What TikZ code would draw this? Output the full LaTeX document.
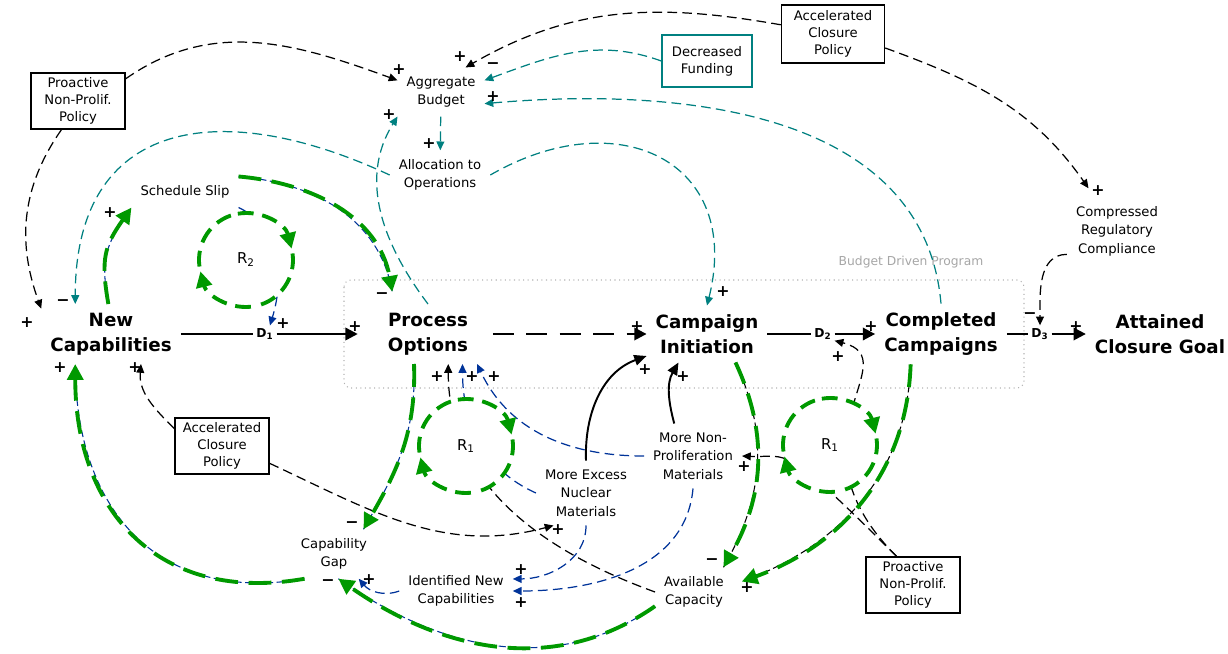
\documentclass[tikz,border=0pt]{standalone}
\usepackage{fontspec}
\setmainfont{DejaVu Sans}
\usetikzlibrary{arrows.meta}
\definecolor{cldgreen}{RGB}{0,153,0}
\definecolor{cldblue}{RGB}{0,51,153}
\definecolor{cldteal}{RGB}{0,128,128}
\tikzstyle{var}=[align=center, inner sep=5pt, font=\fontsize{7.5}{10.5}\selectfont]
\tikzstyle{stock}=[align=center, inner sep=5pt, font=\fontsize{10.4}{14}\selectfont\bfseries]
\tikzstyle{policy}=[draw, line width=0.85pt, align=center, inner sep=1pt,
  font=\fontsize{7.5}{9.6}\selectfont, minimum width=1.88cm, minimum height=1.12cm]
\tikzstyle{valve}=[inner sep=1.5pt, font=\fontsize{7}{8}\selectfont\bfseries]
\tikzstyle{sgn}=[inner sep=0pt, font=\fontsize{9}{9}\selectfont\bfseries]
\tikzstyle{looplbl}=[inner sep=0pt, font=\fontsize{8.5}{9}\selectfont]
\tikzstyle{flow}=[line width=1.4pt]
\tikzstyle{flowto}=[flow, -{Triangle[length=7pt,width=7pt]}]
\tikzstyle{link}=[line width=0.7pt, dash pattern=on 5.5pt off 3pt, -{Triangle[length=5pt,width=4.5pt]}]
\tikzstyle{tlink}=[link, cldteal]
\tikzstyle{blink}=[link, cldblue]
\tikzstyle{solidlink}=[line width=1.1pt, -{Triangle[length=7pt,width=6pt]}]
\tikzstyle{gbase}=[draw=cldgreen, line width=2.2pt, dash pattern=on 13pt off 6pt,
  -{Triangle[length=9pt,width=9pt]}]
\tikzstyle{gblue}=[gbase, preaction={draw=cldblue, line width=0.6pt, dash pattern=on 4pt off 2pt, -}]
\tikzstyle{gblack}=[gbase, preaction={draw=black, line width=0.6pt, dash pattern=on 4pt off 2pt, -}]
\tikzstyle{gloop}=[draw=cldgreen, line width=2.2pt, dash pattern=on 9pt off 5pt]
\tikzstyle{gloopto}=[gloop, -{Triangle[length=9pt,width=9pt]}]

\begin{document}
\begin{tikzpicture}[x=0.02cm, y=-0.02cm]
  \useasboundingbox (0,0) rectangle (1228,653);

  % program boundary
  \draw[gray!60, dotted, line width=0.6pt, rounded corners=4pt] (344,280) rectangle (1024,388);
  \node[inner sep=0pt, text=gray!70, font=\fontsize{7}{8}\selectfont] (bdlbl) at (911,262) {Budget Driven Program};

  % stocks and valves
  \node[stock] (nc) at (111,334) {New\\Capabilities};
  \node[stock] (po) at (428,334) {Process\\Options};
  \node[stock] (ci) at (707,334) {Campaign\\Initiation};
  \node[stock] (cc) at (941,334) {Completed\\Campaigns};
  \node[stock] (acg) at (1160,334) {Attained\\Closure Goal};
  \node[valve] (d1) at (265,334) {D\textsubscript{1}};
  \node[valve] (d2) at (823,334) {D\textsubscript{2}};
  \node[valve] (d3) at (1040,334) {D\textsubscript{3}};

  % auxiliaries
  \node[var] (ab) at (441,92) {Aggregate\\Budget};
  \node[var] (ao) at (440,175) {Allocation to\\Operations};
  \node[var] (ss) at (185,192) {Schedule Slip};
  \node[var] (crc) at (1117,231) {Compressed\\Regulatory\\Compliance};
  \node[var] (cg) at (334,554) {Capability\\Gap};
  \node[var] (inc) at (456,591) {Identified New\\Capabilities};
  \node[var] (ac) at (694,592) {Available\\Capacity};
  \node[var] (men) at (586,493) {More Excess\\Nuclear\\Materials};
  \node[var] (mnp) at (693,456) {More Non-\\Proliferation\\Materials};

  % policies
  \node[policy, draw=cldteal, minimum width=1.8cm, minimum height=1.04cm] (df) at (707,61) {Decreased\\Funding};
  \node[policy, minimum width=2.06cm, minimum height=1.16cm] (acpt) at (833,34) {Accelerated\\Closure\\Policy};
  \node[policy] (pnpt) at (78,101) {Proactive\\Non-Prolif.\\Policy};
  \node[policy] (acpb) at (222,446) {Accelerated\\Closure\\Policy};
  \node[policy] (pnpb) at (913,585) {Proactive\\Non-Prolif.\\Policy};

  % flows
  \draw[flow] (nc) -- (d1);
  \draw[flowto] (d1) -- ([xshift=-12pt]po.west);
  \draw[flowto, dash pattern=on 12pt off 7pt, shorten <=9pt] (po) -- (ci);
  \draw[flow] (ci) -- (d2);
  \draw[flowto] (d2) -- (cc);
  \draw[flow] (cc) -- (d3);
  \draw[flowto] (d3) -- (acg);

  % policy links
  \draw[link] (pnpt.25) to[out=35,in=160] (ab.165);
  \draw[link] (pnpt.-120) to[out=-125,in=110] (nc.160);
  \draw[link] (acpt.170) to[out=170,in=30] (ab.45);
  \draw[link] (acpt.-15) to[out=-20,in=125] ([yshift=5pt]crc.130);
  \draw[link] (crc.-155) to[out=180,in=90] (d3.north);
  \draw[link] (acpb.160) to[out=135,in=-95] (nc.-45);
  \draw[link] (acpb.-20) to[out=-25,in=195] (men.-135);
  \draw[link] (pnpb.120) .. controls (780,440) and (790,458) .. (mnp.east);
  \draw[link] (pnpb.120) .. controls (780,440) and (910,360) .. (d2.-30);
  \draw[link] (ac.west) to[out=160,in=-90] (po.-56);

  % budget links
  \draw[tlink] (ab) -- (ao);
  \draw[tlink] (df.west) to[out=160,in=20] (ab.15);
  \draw[tlink] (cc.north) to[out=95,in=5] (ab.-15);
  \draw[tlink] (po.north) to[out=127,in=238] (ab.south west);
  \draw[tlink] (ao.west) to[out=155,in=90,looseness=1.4] (nc.140);
  \draw[tlink] (ao.east) to[out=30,in=76,looseness=1.5] (ci.north);

  % materials links
  \draw[blink] (ss.south east) to[out=-25,in=73] (d1.60);
  \draw[blink] (inc.west) to[out=200,in=-50] (cg.-45);
  \draw[blink] (men.south) to[out=-90,in=0] (inc.12);
  \draw[blink] (mnp.south) to[out=-95,in=0] (inc.east);
  \draw[blink] (mnp.west) to[out=180,in=-65] (po.south east);
  \draw[blink] (men.west) to[out=156,in=-90] (po.-41);
  \draw[solidlink] (men.north) to[out=92,in=200] (ci.200);
  \draw[solidlink] (mnp.120) to[out=105,in=240] (ci.-135);

  % highlighted paths
  \draw[gblue] (nc.95) to[out=100,in=235,looseness=1.2] (ss.south west);
  \draw[gblue] (ss.north east) to[out=-5,in=100] ([yshift=7pt]po.140);
  \draw[gblue] (po.-115) to[out=-88,in=60] (cg.40);
  \draw[gblue] (cg.-140) to[out=190,in=-90,looseness=1.2] (nc.-140);
  \draw[gblue] (ac.-160) to[out=215,in=-35] (cg.-80);
  \draw[gblack] (ci.-45) to[out=-65,in=60] (ac.40);
  \draw[gblack] (cc.-135) to[out=-92,in=20] ([xshift=5pt]ac.15);

  % loops
  \coordinate (l2) at (246,260);
  \coordinate (l1a) at (466,446);
  \coordinate (l1b) at (830,445);
  \foreach \lc in {l2,l1a,l1b} {
    \fill[white] (\lc) circle[radius=0.95cm];
    \draw[gloopto] ([shift={(100:0.94cm)}]\lc) arc[start angle=100, end angle=14, radius=0.94cm];
    \draw[gloop] ([shift={(8:0.94cm)}]\lc) arc[start angle=8, end angle=-78, radius=0.94cm];
    \draw[gloopto] ([shift={(-84:0.94cm)}]\lc) arc[start angle=-84, end angle=-166, radius=0.94cm];
    \draw[gloop] ([shift={(-172:0.94cm)}]\lc) arc[start angle=-172, end angle=-256, radius=0.94cm];
  }
  \node[looplbl] (r2) at (l2) {R\textsubscript{2}};
  \node[looplbl] (r1a) at (l1a) {R\textsubscript{1}};
  \node[looplbl] (r1b) at (l1b) {R\textsubscript{1}};

  % polarities
  \foreach \px/\py/\sg [count=\k] in {355/327/+, 283/324/+, 637/327/+, 871/327/+, 1076/327/+,
      1030/316/−, 1098/191/+, 460/57/+, 399/70/+, 493/66/−, 493/97/+, 389/115/+, 429/144/+,
      63/303/−, 27/323/+, 723/292/+, 110/213/+, 382/296/−, 352/525/−, 60/368/+, 135/368/+,
      558/530/+, 328/583/−, 369/580/+, 521/570/+, 521/603/+, 645/370/+, 683/377/+, 437/377/+,
      472/377/+, 494/377/+, 712/562/−, 747/588/+, 744/467/+, 838/357/+} {
    \node[sgn] (sg\k) at (\px,\py) {\sg};
  }
\end{tikzpicture}
\end{document}
